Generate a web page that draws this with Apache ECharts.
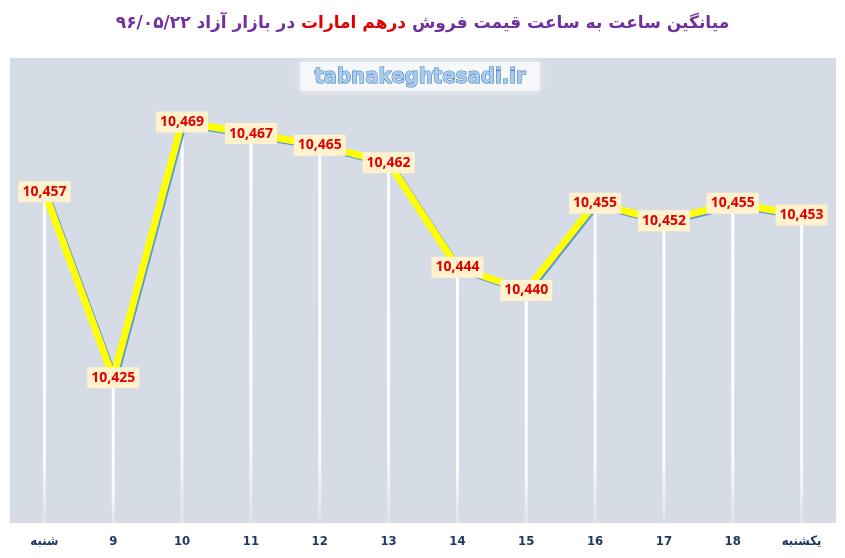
<!DOCTYPE html>
<html>
<head>
<meta charset="utf-8">
<script src="https://cdn.jsdelivr.net/npm/echarts@6/dist/echarts.min.js"></script>
<style>
  html, body { margin: 0; padding: 0; background: #fff; }
  #chart { width: 845px; height: 558px; }
</style>
</head>
<body>
<div id="chart"></div>
<script>
// data
var days = ['شنبه', '9', '10', '11', '12', '13', '14', '15', '16', '17', '18', 'یکشنبه'];
var prices = [10457, 10425, 10469, 10467, 10465, 10462, 10444, 10440, 10455, 10452, 10455, 10453];

var titleLeft = 'در بازار آزاد ۹۶/۰۵/۲۲ ';
var titleRed = 'درهم امارات';
var titleRight = ' میانگین ساعت به ساعت قیمت فروش';

var chart = echarts.init(document.getElementById('chart'));

var option = {
  animation: false,
  backgroundColor: '#ffffff',
  title: {
    text: '{p|' + titleLeft + '}{r|' + titleRed + '}{p|' + titleRight + '}',
    left: 'center',
    top: 10,
    textStyle: {
      rich: {
        p: { color: '#7030a0', fontSize: 17, fontWeight: 'bold', fontFamily: 'DejaVu Sans' },
        r: { color: '#e00000', fontSize: 17, fontWeight: 'bold', fontFamily: 'DejaVu Sans' }
      }
    }
  },
  grid: {
    left: 10,
    right: 9,
    top: 58,
    bottom: 35,
    show: true,
    backgroundColor: '#d6dce5',
    borderWidth: 0
  },
  xAxis: {
    type: 'category',
    data: days,
    boundaryGap: true,
    axisLine: { show: false },
    axisTick: { show: false },
    axisLabel: {
      color: '#1f3864',
      fontWeight: 'bold',
      fontSize: 13,
      fontFamily: 'DejaVu Sans Condensed',
      margin: 12
    }
  },
  yAxis: {
    type: 'value',
    min: 10400,
    max: 10480,
    show: false,
    splitLine: { show: false }
  },
  graphic: [
    {
      type: 'rect',
      shape: { x: 300, y: 62, width: 240, height: 29 },
      style: { fill: 'rgba(255,255,255,0.6)', shadowBlur: 8, shadowColor: 'rgba(255,255,255,0.9)' },
      z: 1
    },
    {
      type: 'text',
      x: 420,
      y: 77,
      style: {
        text: 'tabnakeghtesadi.ir',
        align: 'center',
        verticalAlign: 'middle',
        font: 'bold 22px "Liberation Sans Narrow", "DejaVu Sans Condensed", sans-serif',
        fill: '#a9cbec',
        stroke: '#3a75bd',
        lineWidth: 1
      },
      z: 2
    }
  ],
  series: [
    {
      // white drop lines from each point to the bottom
      type: 'bar',
      data: prices,
      barWidth: 3,
      silent: true,
      itemStyle: {
        color: new echarts.graphic.LinearGradient(0, 0, 0, 1, [
          { offset: 0, color: 'rgba(255,255,255,1)' },
          { offset: 0.8, color: 'rgba(255,255,255,0.9)' },
          { offset: 1, color: 'rgba(255,255,255,0.2)' }
        ])
      },
      z: 2
    },
    {
      type: 'line',
      data: prices,
      symbol: 'circle',
      symbolSize: 1,
      showSymbol: true,
      itemStyle: { color: 'rgba(0,0,0,0)' },
      lineStyle: {
        color: '#ffff00',
        width: 7,
        shadowColor: '#5b9bd5',
        shadowBlur: 0,
        shadowOffsetX: 1.5,
        shadowOffsetY: 1.5
      },
      label: {
        show: true,
        position: 'inside',
        offset: [0, 1],
        formatter: function (p) { return p.value.toLocaleString('en-US'); },
        color: '#e00000',
        fontWeight: 'bold',
        fontSize: 14,
        fontFamily: 'Open Sans',
        backgroundColor: '#fff2cc',
        padding: [4, 4, 3, 4]
      },
      labelLayout: { hideOverlap: false },
      z: 3
    }
  ]
};

chart.setOption(option);
</script>
</body>
</html>
